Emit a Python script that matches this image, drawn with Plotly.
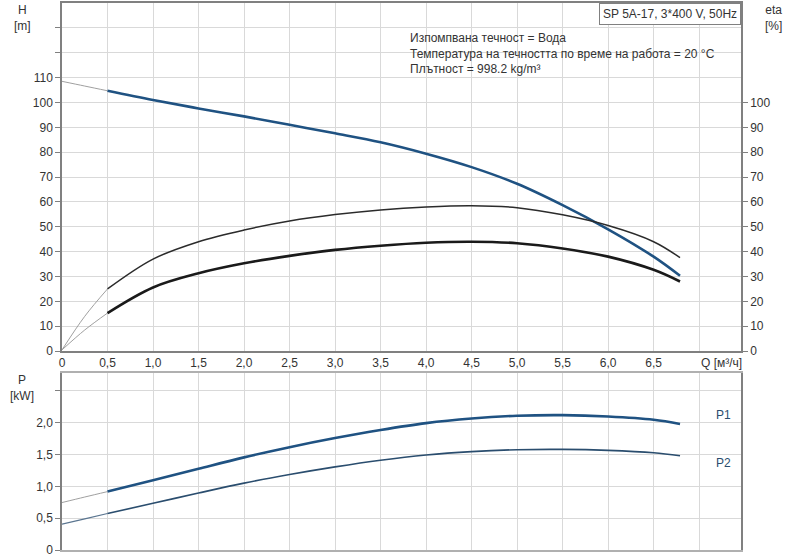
import plotly.graph_objects as go

# flow points Q [m3/h]
q = [0.5, 1.0, 1.5, 2.0, 2.5, 3.0, 3.5, 4.0, 4.5, 5.0, 5.5, 6.0, 6.5, 6.79]
q_start = [0.0, 0.25, 0.5]

# head H [m]
head = [104.7, 101.0, 97.6, 94.4, 91.0, 87.6, 84.0, 79.4, 74.0, 67.3, 58.7, 49.0, 38.0, 30.3]
head_start = [108.5, 106.6, 104.7]

# efficiencies [%]
eta_pump = [25.0, 37.0, 44.0, 48.7, 52.3, 54.9, 56.8, 58.0, 58.5, 57.7, 54.8, 50.5, 44.0, 37.6]
eta_pump_start = [0.5, 14.0, 25.0]
eta_total = [15.3, 25.6, 31.3, 35.3, 38.3, 40.7, 42.4, 43.6, 44.0, 43.4, 41.3, 38.0, 32.7, 28.0]
eta_total_start = [0.5, 8.5, 15.3]

# power [kW]
p1 = [0.917, 1.094, 1.276, 1.455, 1.615, 1.758, 1.885, 1.993, 2.065, 2.108, 2.118, 2.096, 2.045, 1.98]
p1_start = [0.745, 0.832, 0.917]
p2 = [0.573, 0.733, 0.895, 1.05, 1.185, 1.305, 1.41, 1.492, 1.545, 1.575, 1.58, 1.565, 1.527, 1.479]
p2_start = [0.406, 0.49, 0.573]

q_ticks = [0, 0.5, 1.0, 1.5, 2.0, 2.5, 3.0, 3.5, 4.0, 4.5, 5.0, 5.5, 6.0, 6.5, 7.0]
q_labels = ["0", "0,5", "1,0", "1,5", "2,0", "2,5", "3,0", "3,5", "4,0", "4,5",
            "5,0", "5,5", "6,0", "6,5", ""]
h_ticks = [0, 10, 20, 30, 40, 50, 60, 70, 80, 90, 100, 110, 120, 130]
h_labels = ["0", "10", "20", "30", "40", "50", "60", "70", "80", "90", "100", "110", "", ""]
eta_ticks = [0, 10, 20, 30, 40, 50, 60, 70, 80, 90, 100]
p_ticks = [0, 0.5, 1.0, 1.5, 2.0, 2.5]
p_labels = ["0", "0,5", "1,0", "1,5", "2,0", ""]

blue = "#1f5282"
dark = "#1a1a1a"
thin = "#a0a0a0"
grid = "#d9d9d9"
axis_col = "#808080"
font = dict(family="Arial, Liberation Sans, sans-serif", size=12, color="#333333")

fig = go.Figure()

# thin extrapolated segments
for ys in [head_start, eta_pump_start, eta_total_start]:
    fig.add_trace(go.Scatter(x=q_start, y=ys, mode="lines", line=dict(color=thin, width=1, shape="spline"),
                             xaxis="x", yaxis="y", hoverinfo="skip"))
fig.add_trace(go.Scatter(x=q_start, y=p1_start, mode="lines", line=dict(color=thin, width=1, shape="spline"),
                         xaxis="x2", yaxis="y3", hoverinfo="skip"))
fig.add_trace(go.Scatter(x=q_start, y=p2_start, mode="lines", line=dict(color="#5a7590", width=1.2, shape="spline"),
                         xaxis="x2", yaxis="y3", hoverinfo="skip"))

# main curves
fig.add_trace(go.Scatter(x=q, y=eta_pump, mode="lines", line=dict(color="#2b2b2b", width=1.5, shape="spline"),
                         name="eta pump", xaxis="x", yaxis="y2"))
fig.add_trace(go.Scatter(x=q, y=eta_total, mode="lines", line=dict(color=dark, width=2.6, shape="spline"),
                         name="eta total", xaxis="x", yaxis="y2"))
fig.add_trace(go.Scatter(x=q, y=head, mode="lines", line=dict(color=blue, width=2.6, shape="spline"),
                         name="H", xaxis="x", yaxis="y"))
fig.add_trace(go.Scatter(x=q, y=p1, mode="lines", line=dict(color=blue, width=2.6, shape="spline"),
                         name="P1", xaxis="x2", yaxis="y3"))
fig.add_trace(go.Scatter(x=q, y=p2, mode="lines", line=dict(color="#2a4d6e", width=1.6, shape="spline"),
                         name="P2", xaxis="x2", yaxis="y3"))

top_dom = [0.3636, 1.0]
bot_dom = [0.0, 0.3236]

fig.update_layout(
    width=800, height=560,
    margin=dict(l=62, r=59, t=1, b=10),
    paper_bgcolor="white", plot_bgcolor="white",
    showlegend=False,
    font=font,
    xaxis=dict(domain=[0, 1], range=[0, 7.46], tickvals=q_ticks, ticktext=q_labels,
               showgrid=True, gridcolor=grid, zeroline=False,
               showline=True, linecolor=axis_col, linewidth=1.5, mirror=True,
               ticks="", anchor="y", tickfont=font),
    yaxis=dict(domain=top_dom, range=[0, 140], tickvals=h_ticks, ticktext=h_labels,
               showgrid=True, gridcolor=grid, zeroline=False,
               showline=True, linecolor=axis_col, linewidth=1.5,
               ticks="outside", ticklen=5, tickcolor=axis_col, anchor="x", tickfont=font),
    yaxis2=dict(overlaying="y", side="right", range=[0, 140], tickvals=eta_ticks,
                showgrid=False, zeroline=False, showline=True, linecolor=axis_col, linewidth=1.5,
                ticks="outside", ticklen=5, tickcolor=axis_col, anchor="x", tickfont=font),
    xaxis2=dict(domain=[0, 1], range=[0, 7.46], tickvals=q_ticks, showticklabels=False,
                showgrid=True, gridcolor=grid, zeroline=False,
                showline=True, linecolor="#b0b0b0", linewidth=1.5, mirror=True,
                ticks="", anchor="y3"),
    yaxis3=dict(domain=bot_dom, range=[0, 2.78], tickvals=p_ticks, ticktext=p_labels,
                showgrid=True, gridcolor=grid, zeroline=False,
                showline=True, linecolor=axis_col, linewidth=1.5, mirror=True,
                ticks="outside", ticklen=5, tickcolor=axis_col, anchor="x2", tickfont=font),
)

annotations = [
    dict(text="H<br>[m]", x=22, y=552),
    dict(text="eta<br>[%]", x=773, y=552),
    dict(text="P<br>[kW]", x=22, y=180),
]
for a in annotations:
    fig.add_annotation(text=a["text"], xref="paper", yref="paper",
                       x=(a["x"] - 62) / 679, y=a["y"] / 550, xanchor="center", yanchor="top",
                       showarrow=False, font=font, align="center")

fig.add_annotation(text="Q [м³/ч]", xref="x", yref="paper", x=7.0, y=200 / 550 - 0.005,
                   xanchor="left", yanchor="top", showarrow=False, font=font)
fig.add_annotation(text="Изпомпвана течност = Вода<br>Температура на течността по време на работа = 20 °C"
                        "<br>Плътност = 998.2 kg/m³",
                   xref="x", yref="y", x=3.8, y=129.5, xanchor="left", yanchor="top",
                   showarrow=False, align="left", font=font)
fig.add_annotation(text="SP 5A-17, 3*400 V, 50Hz", xref="paper", yref="paper",
                   x=1.0, y=1.0, xanchor="right", yanchor="top", showarrow=False,
                   bordercolor="#808080", borderwidth=1, borderpad=3, bgcolor="white", font=font)
fig.add_annotation(text="P1", xref="paper", yref="y3", x=1.0 - 8 / 679, y=2.12,
                   xanchor="right", showarrow=False, font=dict(family=font["family"], size=12, color="#2a4d6e"))
fig.add_annotation(text="P2", xref="paper", yref="y3", x=1.0 - 8 / 679, y=1.36,
                   xanchor="right", showarrow=False, font=dict(family=font["family"], size=12, color="#2a4d6e"))

fig.write_html("out.html", config={"displayModeBar": False},
               post_script="document.body.style.margin='0px';")
